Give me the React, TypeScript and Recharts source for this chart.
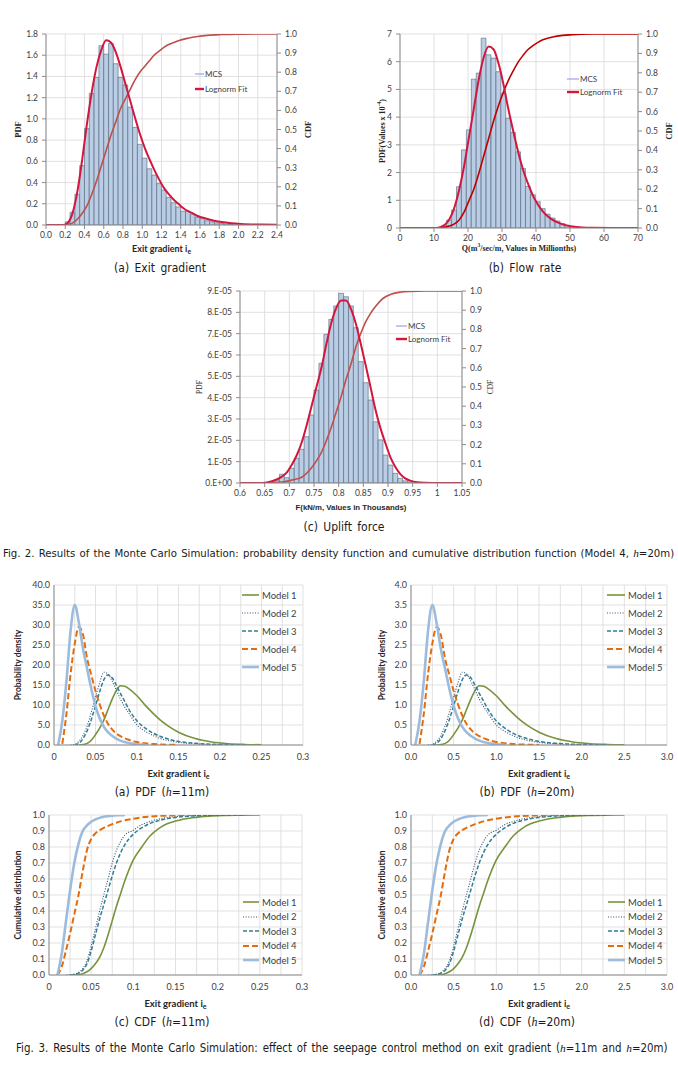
import React from "react";
import {
  ComposedChart,
  LineChart,
  Line,
  Bar,
  XAxis,
  YAxis,
  CartesianGrid,
  Label,
} from "recharts";

// ---------- Fig. 2(a): exit gradient, bins 0.05 wide ----------
const gradBinX = [
  0.225, 0.275, 0.325, 0.375, 0.425, 0.475, 0.525, 0.575, 0.625, 0.675, 0.725, 0.775,
  0.825, 0.875, 0.925, 0.975, 1.025, 1.075, 1.125, 1.175, 1.225, 1.275, 1.325, 1.375,
  1.425, 1.475, 1.525, 1.575, 1.625, 1.675, 1.725, 1.775, 1.825, 1.875, 1.925,
];
const gradBinPdf = [
  0.03, 0.12, 0.29, 0.56, 0.91, 1.24, 1.39, 1.69, 1.61, 1.71, 1.52, 1.39, 1.32, 1.11,
  0.92, 0.76, 0.63, 0.53, 0.47, 0.39, 0.33, 0.26, 0.21, 0.17, 0.13, 0.13, 0.1, 0.07,
  0.06, 0.04, 0.03, 0.02, 0.015, 0.01, 0.006,
];
const gradFitX = [
  -0.025, 0.175, 0.225, 0.275, 0.325, 0.375, 0.425, 0.475, 0.525, 0.575, 0.625, 0.675,
  0.725, 0.775, 0.825, 0.875, 0.925, 0.975, 1.025, 1.075, 1.125, 1.175, 1.225, 1.275,
  1.325, 1.375, 1.425, 1.475, 1.525, 1.575, 1.625, 1.725, 1.825, 1.925, 2.025, 2.225, 2.425,
];
const gradFitPdf = [
  0, 0, 0.02, 0.11, 0.31, 0.61, 0.95, 1.25, 1.49, 1.65, 1.74, 1.72, 1.63, 1.49, 1.33,
  1.17, 1.01, 0.86, 0.73, 0.62, 0.52, 0.43, 0.35, 0.29, 0.24, 0.2, 0.16, 0.13, 0.11,
  0.085, 0.07, 0.045, 0.028, 0.017, 0.01, 0.004, 0.001,
];
const gradCdfX = [
  -0.025, 0.175, 0.225, 0.275, 0.325, 0.375, 0.425, 0.475, 0.525, 0.575, 0.625, 0.675,
  0.725, 0.775, 0.825, 0.875, 0.925, 0.975, 1.025, 1.075, 1.125, 1.175, 1.225, 1.275,
  1.325, 1.375, 1.475, 1.575, 1.675, 1.825, 2.025, 2.225, 2.425,
];
const gradFitCdf = [
  0, 0, 0.002, 0.01, 0.03, 0.06, 0.1, 0.16, 0.23, 0.31, 0.39, 0.47, 0.54, 0.61, 0.66,
  0.71, 0.76, 0.8, 0.83, 0.86, 0.89, 0.91, 0.93, 0.945, 0.955, 0.965, 0.978, 0.987,
  0.993, 0.997, 0.999, 1, 1,
];
const gradTicksX = [0, 0.2, 0.4, 0.6, 0.8, 1.0, 1.2, 1.4, 1.6, 1.8, 2.0, 2.2, 2.4];
const gradTicksPdf = [0, 0.2, 0.4, 0.6, 0.8, 1.0, 1.2, 1.4, 1.6, 1.8];

// ---------- Fig. 2(b): flow rate, bins 1.45 wide ----------
const flowBinX = [
  13.0, 14.45, 15.9, 17.35, 18.8, 20.25, 21.7, 23.15, 24.6, 26.05, 27.5, 28.95, 30.4,
  31.85, 33.3, 34.75, 36.2, 37.65, 39.1, 40.55, 42.0, 43.45, 44.9, 46.35, 47.8, 49.25, 50.7,
];
const flowBinPdf = [
  0.1, 0.29, 0.65, 1.49, 2.82, 3.54, 5.37, 5.59, 6.85, 6.25, 6.13, 5.64, 4.85, 3.96,
  3.45, 2.75, 2.15, 1.5, 1.2, 0.95, 0.7, 0.5, 0.36, 0.25, 0.16, 0.1, 0.05,
];
const flowFitX = [
  -0.05, 10.1, 11.55, 13.0, 14.45, 15.9, 17.35, 18.8, 20.25, 21.7, 23.15, 24.6, 26.05,
  27.5, 28.95, 30.4, 31.85, 33.3, 34.75, 36.2, 37.65, 39.1, 40.55, 42.0, 43.45, 44.9,
  46.35, 47.8, 50.7, 53.6, 56.5, 62.3, 71.0,
];
const flowFitPdf = [
  0, 0, 0.02, 0.1, 0.3, 0.7, 1.35, 2.2, 3.25, 4.3, 5.35, 6.15, 6.55, 6.45, 5.95, 5.2,
  4.3, 3.5, 2.75, 2.1, 1.6, 1.17, 0.85, 0.6, 0.42, 0.29, 0.2, 0.13, 0.055, 0.02, 0.007,
  0.001, 0,
];
const flowCdfX = [
  -0.05, 10.1, 13.0, 14.45, 15.9, 17.35, 18.8, 20.25, 21.7, 23.15, 24.6, 26.05, 27.5,
  28.95, 30.4, 31.85, 33.3, 34.75, 36.2, 37.65, 39.1, 40.55, 42.0, 44.9, 47.8, 50.7,
  53.6, 56.5, 71.0,
];
const flowFitCdf = [
  0, 0, 0.004, 0.01, 0.02, 0.04, 0.08, 0.14, 0.2, 0.28, 0.37, 0.46, 0.55, 0.63, 0.7,
  0.76, 0.81, 0.855, 0.89, 0.92, 0.94, 0.957, 0.97, 0.985, 0.993, 0.997, 0.999, 1, 1,
];
const flowTicksX = [0, 10, 20, 30, 40, 50, 60, 70];
const flowTicksPdf = [0, 1, 2, 3, 4, 5, 6, 7];

// ---------- Fig. 2(c): uplift force, bins 0.01 wide ----------
const upliftBinX = [
  0.665, 0.675, 0.685, 0.695, 0.705, 0.715, 0.725, 0.735, 0.745, 0.755, 0.765, 0.775,
  0.785, 0.795, 0.805, 0.815, 0.825, 0.835, 0.845, 0.855, 0.865, 0.875, 0.885, 0.895,
  0.905, 0.915, 0.925, 0.935, 0.945,
];
const upliftBinPdf = [
  0.03e-5, 0.14e-5, 0.41e-5, 0.25e-5, 0.69e-5, 1.16e-5, 1.58e-5, 2.17e-5, 3.19e-5,
  4.36e-5, 5.61e-5, 6.97e-5, 7.67e-5, 8.3e-5, 8.89e-5, 8.73e-5, 8.3e-5, 7.28e-5,
  5.69e-5, 4.7e-5, 3.89e-5, 2.87e-5, 2.02e-5, 1.31e-5, 0.84e-5, 0.45e-5, 0.22e-5,
  0.1e-5, 0.05e-5,
];
const upliftFitX = [
  0.595, 0.645, 0.665, 0.685, 0.695, 0.705, 0.715, 0.725, 0.735, 0.745, 0.755, 0.765,
  0.775, 0.785, 0.795, 0.805, 0.815, 0.825, 0.835, 0.845, 0.855, 0.865, 0.875, 0.885,
  0.895, 0.905, 0.915, 0.925, 0.935, 0.945, 0.955, 0.975, 1.005, 1.055,
];
const upliftFitPdf = [
  0, 0, 0.08e-5, 0.3e-5, 0.5e-5, 0.85e-5, 1.3e-5, 1.9e-5, 2.7e-5, 3.6e-5, 4.5e-5,
  5.4e-5, 6.5e-5, 7.5e-5, 8.2e-5, 8.55e-5, 8.55e-5, 8.15e-5, 7.45e-5, 6.5e-5, 5.5e-5,
  4.45e-5, 3.4e-5, 2.55e-5, 1.85e-5, 1.2e-5, 0.75e-5, 0.42e-5, 0.22e-5, 0.11e-5,
  0.05e-5, 0.01e-5, 0, 0,
];
const upliftCdfX = [
  0.595, 0.645, 0.685, 0.705, 0.725, 0.745, 0.755, 0.765, 0.775, 0.785, 0.795, 0.805,
  0.815, 0.825, 0.835, 0.845, 0.855, 0.865, 0.875, 0.885, 0.895, 0.905, 0.925, 0.945,
  0.975, 1.055,
];
const upliftFitCdf = [
  0, 0, 0.005, 0.015, 0.03, 0.08, 0.115, 0.16, 0.22, 0.29, 0.37, 0.45, 0.54, 0.62,
  0.71, 0.78, 0.84, 0.885, 0.92, 0.95, 0.97, 0.982, 0.994, 0.998, 1, 1,
];
const upliftTicksX = [0.6, 0.65, 0.7, 0.75, 0.8, 0.85, 0.9, 0.95, 1.0, 1.05];
const upliftTicksPdf = [0, 1e-5, 2e-5, 3e-5, 4e-5, 5e-5, 6e-5, 7e-5, 8e-5, 9e-5];

const cdfTicks = [0, 0.1, 0.2, 0.3, 0.4, 0.5, 0.6, 0.7, 0.8, 0.9, 1.0];

// ---------- Fig. 3: exit gradient per seepage-control model ----------
const ig11X = [
  0.005, 0.01, 0.015, 0.02, 0.025, 0.03, 0.035, 0.04, 0.045, 0.05, 0.055, 0.06, 0.065,
  0.07, 0.075, 0.08, 0.085, 0.09, 0.1, 0.11, 0.12, 0.13, 0.14, 0.15, 0.17, 0.19, 0.21,
  0.23, 0.25,
];
const pdf11M1 = [null, null, null, null, null, 0, 0.1, 0.4, 1.2, 2.6, 4.2, 6.2, 8.8, 11.4, 13.6, 14.8, 14.7, 14.1, 12.3, 9.9, 7.8, 5.9, 4.4, 3.2, 1.6, 0.75, 0.33, 0.14, 0.05];
const pdf11M2 = [null, null, null, 0, 0.2, 0.9, 2.4, 4.8, 8.2, 12.0, 15.5, 18.2, 17.8, 16.0, 13.8, 11.5, 9.6, 8.0, 5.0, 3.4, 2.3, 1.5, 1.0, 0.65, 0.28, 0.12, 0.05, null, null];
const pdf11M3 = [null, null, null, null, 0, 0.4, 1.6, 3.6, 6.4, 9.8, 13.3, 16.3, 17.5, 16.8, 15.0, 12.9, 11.0, 9.0, 6.0, 4.2, 2.9, 2.0, 1.35, 0.9, 0.42, 0.18, 0.08, 0.03, null];
const pdf11M4 = [null, 0.3, 7.8, 17.8, 25.3, 29.5, 27.5, 21.5, 17.5, 13.5, 10.2, 7.4, 5.3, 3.9, 2.9, 2.2, 1.7, 1.3, 0.75, 0.42, 0.23, 0.12, 0.06, 0.03, null, null, null, null, null];
const pdf11M5 = [0, 6, 16, 28.6, 35, 30.5, 24, 19, 14, 9.8, 6.7, 4.6, 3.2, 2.3, 1.6, 1.1, 0.75, 0.5, 0.2, 0.05, null, null, null, null, null, null, null, null, null];

const ig20X = [
  0.05, 0.1, 0.15, 0.2, 0.25, 0.3, 0.35, 0.4, 0.45, 0.5, 0.55, 0.6, 0.65, 0.7, 0.75,
  0.8, 0.85, 0.9, 1.0, 1.1, 1.2, 1.3, 1.4, 1.5, 1.7, 1.9, 2.1, 2.3, 2.5,
];
const pdf20M1 = [null, null, null, null, null, 0, 0.01, 0.04, 0.12, 0.26, 0.42, 0.62, 0.88, 1.14, 1.36, 1.48, 1.47, 1.41, 1.23, 0.99, 0.78, 0.59, 0.44, 0.32, 0.16, 0.075, 0.033, 0.014, 0.005];
const pdf20M2 = [null, null, null, 0, 0.02, 0.09, 0.24, 0.48, 0.82, 1.2, 1.55, 1.82, 1.78, 1.6, 1.38, 1.15, 0.96, 0.8, 0.5, 0.34, 0.23, 0.15, 0.1, 0.065, 0.028, 0.012, 0.005, null, null];
const pdf20M3 = [null, null, null, null, 0, 0.04, 0.16, 0.36, 0.64, 0.98, 1.33, 1.63, 1.75, 1.68, 1.5, 1.29, 1.1, 0.9, 0.6, 0.42, 0.29, 0.2, 0.135, 0.09, 0.042, 0.018, 0.008, 0.003, null];
const pdf20M4 = [null, 0.03, 0.78, 1.78, 2.53, 2.95, 2.75, 2.15, 1.75, 1.35, 1.02, 0.74, 0.53, 0.39, 0.29, 0.22, 0.17, 0.13, 0.075, 0.042, 0.023, 0.012, 0.006, 0.003, null, null, null, null, null];
const pdf20M5 = [0, 0.6, 1.6, 2.86, 3.5, 3.05, 2.4, 1.9, 1.4, 0.98, 0.67, 0.46, 0.32, 0.23, 0.16, 0.11, 0.075, 0.05, 0.02, 0.005, null, null, null, null, null, null, null, null, null];

// CDF ordinates, read at the same grid points (h=11m on ig11X, h=20m on ig20X)
const cdfM1 = [null, null, null, null, null, 0, 0.002, 0.008, 0.02, 0.04, 0.07, 0.11, 0.17, 0.25, 0.34, 0.43, 0.51, 0.59, 0.72, 0.8, 0.87, 0.915, 0.945, 0.962, 0.983, 0.993, 0.997, 0.999, 1];
const cdfM2 = [null, null, null, 0, 0.001, 0.005, 0.015, 0.04, 0.09, 0.18, 0.29, 0.4, 0.5, 0.6, 0.7, 0.78, 0.835, 0.875, 0.905, 0.94, 0.96, 0.974, 0.984, 0.99, 0.996, 0.999, 1, null, null];
const cdfM3 = [null, null, null, null, 0, 0.004, 0.012, 0.03, 0.07, 0.15, 0.25, 0.35, 0.44, 0.53, 0.62, 0.7, 0.765, 0.815, 0.88, 0.92, 0.948, 0.965, 0.977, 0.985, 0.994, 0.998, 0.999, 1, null];
const cdfM4 = [null, 0, 0.05, 0.15, 0.26, 0.38, 0.5, 0.65, 0.78, 0.85, 0.885, 0.905, 0.92, 0.932, 0.943, 0.952, 0.96, 0.967, 0.977, 0.985, 0.99, 0.994, 0.996, 0.998, 1, null, null, null, null];
const cdfM5 = [null, 0, 0.13, 0.33, 0.53, 0.7, 0.82, 0.9, 0.935, 0.958, 0.972, 0.982, 0.989, 0.993, 0.996, 0.998, 0.999, 1, null, null, null, null, null, null, null, null, null, null, null];

const ig11Ticks = [0, 0.025, 0.05, 0.075, 0.1, 0.125, 0.15, 0.175, 0.2, 0.225, 0.25, 0.275, 0.3];
const ig20Ticks = [0, 0.25, 0.5, 0.75, 1.0, 1.25, 1.5, 1.75, 2.0, 2.25, 2.5, 2.75, 3.0];
const pdf11Ticks = [0, 5, 10, 15, 20, 25, 30, 35, 40];
const pdf20Ticks = [0, 0.5, 1.0, 1.5, 2.0, 2.5, 3.0, 3.5, 4.0];

const modelNames = ["Model 1", "Model 2", "Model 3", "Model 4", "Model 5"];

// ---------- styles ----------
const FONT_TICK = "Lato, 'Open Sans', sans-serif";
const FONT_SERIF = "'Liberation Serif', 'DejaVu Serif', serif";
const FONT_ARIAL = "'Liberation Sans', Arial, sans-serif";
const FONT_CAP = "'Liberation Sans Narrow', 'DejaVu Sans Condensed', 'Arial Narrow', sans-serif";
const GRID = "#d9d9d9";
const AXIS = "#8c8c8c";
const FIT_RED = "#d2173f";

const MODEL_STYLE = [
  { color: "#77933c", dash: undefined, width: 1.6 },
  { color: "#3d4f73", dash: "1 1.6", width: 1.1 },
  { color: "#2f7f92", dash: "4 2", width: 1.5 },
  { color: "#e46c0a", dash: "6 3", width: 2 },
  { color: "#9dbbdc", dash: undefined, width: 2.6 },
];

type Row = { x: number; [key: string]: number | null };

// join several (x, y) series on their x values
function mergeByX(series: Record<string, [number[], number[]]>): Row[] {
  const byKey = new Map<string, Row>();
  Object.entries(series).forEach(([name, [xs, ys]]) => {
    xs.forEach((x, i) => {
      const k = x.toFixed(4);
      const row = byKey.get(k) ?? { x };
      row[name] = ys[i];
      byKey.set(k, row);
    });
  });
  return [...byKey.values()].sort((a, b) => a.x - b.x);
}

function modelRows(xs: number[], models: (number | null)[][]): Row[] {
  return xs.map((x, i) => {
    const row: Row = { x };
    models.forEach((m, j) => {
      row[`m${j + 1}`] = m[i];
    });
    return row;
  });
}

const gradRows = mergeByX({ bin: [gradBinX, gradBinPdf], pdf: [gradFitX, gradFitPdf], cdf: [gradCdfX, gradFitCdf] });
const flowRows = mergeByX({ bin: [flowBinX, flowBinPdf], pdf: [flowFitX, flowFitPdf], cdf: [flowCdfX, flowFitCdf] });
const upliftRows = mergeByX({ bin: [upliftBinX, upliftBinPdf], pdf: [upliftFitX, upliftFitPdf], cdf: [upliftCdfX, upliftFitCdf] });

const pdf11Rows = modelRows(ig11X, [pdf11M1, pdf11M2, pdf11M3, pdf11M4, pdf11M5]);
const pdf20Rows = modelRows(ig20X, [pdf20M1, pdf20M2, pdf20M3, pdf20M4, pdf20M5]);
const cdf11Rows = modelRows(ig11X, [cdfM1, cdfM2, cdfM3, cdfM4, cdfM5]);
const cdf20Rows = modelRows(ig20X, [cdfM1, cdfM2, cdfM3, cdfM4, cdfM5]);

// ---------- small text helpers ----------
const vTitle = (x: number, style: React.CSSProperties, body: React.ReactNode) =>
  (props: any) => {
    const vb = props.viewBox || {};
    const cy = vb.y + vb.height / 2;
    return (
      <text x={x} y={cy} transform={`rotate(-90 ${x} ${cy})`} textAnchor="middle" dominantBaseline="central" style={style}>
        {body}
      </text>
    );
  };

const hTitle = (y: number, style: React.CSSProperties, body: React.ReactNode) =>
  (props: any) => {
    const vb = props.viewBox || {};
    const cx = vb.x + vb.width / 2;
    return (
      <text x={cx} y={y} textAnchor="middle" dominantBaseline="central" style={style}>
        {body}
      </text>
    );
  };

const exitGradient = (
  <>
    Exit gradient i<tspan dy={2.5} fontSize="0.75em">e</tspan>
  </>
);

function FitLegend({ x, y, lineW, gap }: { x: number; y: number; lineW: number; gap: number }) {
  const items = [
    { name: "MCS", color: "#8b8bf0", w: 1 },
    { name: "Lognorm Fit", color: FIT_RED, w: 2.4 },
  ];
  return (
    <div style={{ position: "absolute", left: x, top: y - gap / 2 }}>
      {items.map((it) => (
        <div key={it.name} style={{ display: "flex", alignItems: "center", height: gap }}>
          <svg width={lineW} height={6}>
            <line x1={0} y1={3} x2={lineW} y2={3} stroke={it.color} strokeWidth={it.w} />
          </svg>
          <span style={{ marginLeft: 1, fontSize: 8, fontFamily: FONT_TICK, color: "#404040" }}>{it.name}</span>
        </div>
      ))}
    </div>
  );
}

function ModelLegend({ x, y, lineW, gap }: { x: number; y: number; lineW: number; gap: number }) {
  return (
    <div style={{ position: "absolute", left: x, top: y - gap / 2 }}>
      {modelNames.map((name, i) => {
        const s = MODEL_STYLE[i];
        return (
          <div key={name} style={{ display: "flex", alignItems: "center", height: gap }}>
            <svg width={lineW} height={6}>
              <line x1={0} y1={3} x2={lineW} y2={3} stroke={s.color} strokeWidth={s.width} strokeDasharray={s.dash} />
            </svg>
            <span style={{ marginLeft: 3, fontSize: 9.5, fontFamily: FONT_TICK, color: "#404040" }}>{name}</span>
          </div>
        );
      })}
    </div>
  );
}

// ---------- Fig. 2 panel: histogram + lognormal pdf/cdf ----------
type HistProps = {
  left: number;
  top: number;
  width: number;
  height: number;
  margin: { top: number; right: number; bottom: number; left: number };
  leftW: number;
  rightW: number;
  xAxisH: number;
  rows: Row[];
  binWidth: number;
  xDomain: [number, number];
  xTicks: number[];
  fmtX: (v: number) => string;
  yDomain: [number, number];
  yTicks: number[];
  fmtY: (v: number) => string;
  cdfColor: string;
  pdfTitle: (p: any) => React.ReactElement;
  cdfTitle: (p: any) => React.ReactElement;
  xTitle: (p: any) => React.ReactElement;
  legend: { x: number; y: number; lineW: number; gap: number };
};

function HistPanel(p: HistProps) {
  const plotW = p.width - p.margin.left - p.margin.right - p.leftW - p.rightW;
  const binPx = (plotW * p.binWidth) / (p.xDomain[1] - p.xDomain[0]) - 0.1;
  const tick = { fontSize: 8.5, fill: "#404040", fontFamily: FONT_TICK };
  return (
    <div style={{ position: "absolute", left: p.left, top: p.top, width: p.width, height: p.height }}>
      <ComposedChart width={p.width} height={p.height} data={p.rows} margin={p.margin}>
        <CartesianGrid stroke={GRID} strokeWidth={0.8} yAxisId="pdf" />
        <XAxis
          type="number"
          dataKey="x"
          domain={p.xDomain}
          ticks={p.xTicks}
          interval={0}
          allowDataOverflow
          tickFormatter={p.fmtX}
          height={p.xAxisH}
          tick={tick}
          tickSize={4}
          tickMargin={3}
          stroke={AXIS}
        >
          <Label content={p.xTitle} />
        </XAxis>
        <YAxis
          yAxisId="pdf"
          orientation="left"
          width={p.leftW}
          domain={p.yDomain}
          ticks={p.yTicks}
          interval={0}
          allowDataOverflow
          tickFormatter={p.fmtY}
          tick={tick}
          tickSize={4}
          tickMargin={4}
          stroke={AXIS}
        >
          <Label content={p.pdfTitle} />
        </YAxis>
        <YAxis
          yAxisId="cdf"
          orientation="right"
          width={p.rightW}
          domain={[0, 1]}
          ticks={cdfTicks}
          interval={0}
          allowDataOverflow
          tickFormatter={(v: number) => v.toFixed(1)}
          tick={tick}
          tickSize={4}
          tickMargin={4}
          stroke={AXIS}
        >
          <Label content={p.cdfTitle} />
        </YAxis>
        <Bar
          yAxisId="pdf"
          dataKey="bin"
          barSize={binPx}
          fill="#b9cde5"
          stroke="#56657a"
          strokeWidth={0.6}
          isAnimationActive={false}
        />
        <Line yAxisId="cdf" dataKey="cdf" type="monotone" stroke={p.cdfColor} strokeWidth={1.6} dot={false} connectNulls isAnimationActive={false} />
        <Line yAxisId="pdf" dataKey="pdf" type="monotone" stroke={FIT_RED} strokeWidth={2} dot={false} connectNulls isAnimationActive={false} />
      </ComposedChart>
      <FitLegend {...p.legend} />
    </div>
  );
}

// ---------- Fig. 3 panel: five model curves ----------
type ModelProps = {
  left: number;
  top: number;
  leftW: number;
  marginRight: number;
  rows: Row[];
  xTicks: number[];
  fmtX: (v: number) => string;
  yDomain: [number, number];
  yTicks: number[];
  yTitle: string;
  legend: { x: number; y: number; lineW: number; gap: number };
};

function ModelPanel(p: ModelProps) {
  const tick = { fontSize: 9, fill: "#404040", fontFamily: FONT_TICK };
  const titleStyle: React.CSSProperties = { fontFamily: FONT_TICK, fontWeight: 700, fontSize: 8.5, fill: "#262626" };
  const xDomain: [number, number] = [p.xTicks[0], p.xTicks[p.xTicks.length - 1]];
  return (
    <div style={{ position: "absolute", left: p.left, top: p.top, width: 339, height: 230 }}>
      <LineChart width={339} height={230} data={p.rows} margin={{ top: 10, right: p.marginRight, bottom: 20, left: 0 }}>
        <CartesianGrid stroke={GRID} strokeWidth={0.8} />
        <XAxis
          type="number"
          dataKey="x"
          domain={xDomain}
          ticks={p.xTicks}
          interval={0}
          allowDataOverflow
          tickFormatter={(v: number, i: number) => (i % 2 ? "" : p.fmtX(v))}
          height={40}
          tick={tick}
          tickLine={false}
          tickSize={0}
          tickMargin={9}
          stroke={AXIS}
        >
          <Label content={hTitle(198, { ...titleStyle, fontSize: 9.5 }, exitGradient)} />
        </XAxis>
        <YAxis
          width={p.leftW}
          domain={p.yDomain}
          ticks={p.yTicks}
          interval={0}
          allowDataOverflow
          tickFormatter={(v: number) => v.toFixed(1)}
          tick={tick}
          tickLine={false}
          tickSize={0}
          tickMargin={4}
          stroke={AXIS}
        >
          <Label content={vTitle(p.leftW > 60 ? 43 : 18, titleStyle, p.yTitle)} />
        </YAxis>
        {modelNames.map((name, i) => (
          <Line
            key={name}
            dataKey={`m${i + 1}`}
            name={name}
            type="monotone"
            stroke={MODEL_STYLE[i].color}
            strokeWidth={MODEL_STYLE[i].width}
            strokeDasharray={MODEL_STYLE[i].dash}
            dot={false}
            isAnimationActive={false}
          />
        ))}
      </LineChart>
      <ModelLegend {...p.legend} />
    </div>
  );
}

function Caption({ x, y, align = "center", size = 12, spacing = 2, children }: { x: number; y: number; align?: "center" | "left"; size?: number; spacing?: number; children: React.ReactNode }) {
  const centered = align === "center";
  return (
    <div
      style={{
        position: "absolute",
        top: y - 9,
        height: 18,
        lineHeight: "18px",
        left: centered ? x - 200 : x,
        width: centered ? 400 : undefined,
        textAlign: centered ? "center" : "left",
        whiteSpace: "nowrap",
        fontFamily: FONT_CAP,
        fontSize: size,
        color: "#1a1a1a",
        wordSpacing: spacing,
      }}
    >
      {children}
    </div>
  );
}

const H = () => <i style={{ fontFamily: FONT_SERIF }}>h</i>;

export default function App() {
  const serifBold: React.CSSProperties = { fontFamily: FONT_SERIF, fontWeight: 700, fontSize: 8.5, fill: "#262626" };
  const sansBold: React.CSSProperties = { fontFamily: FONT_TICK, fontWeight: 700, fontSize: 9, fill: "#262626" };
  return (
    <div style={{ position: "absolute", left: 0, top: 0, width: 678, height: 1071, overflow: "hidden", background: "#fff" }}>
      <HistPanel
        left={0}
        top={0}
        width={339}
        height={260}
        margin={{ top: 34, right: 20, bottom: 0, left: 0 }}
        leftW={46}
        rightW={42}
        xAxisH={35}
        rows={gradRows}
        binWidth={0.05}
        xDomain={[0, 2.4]}
        xTicks={gradTicksX}
        fmtX={(v) => v.toFixed(1)}
        yDomain={[0, 1.8]}
        yTicks={gradTicksPdf}
        fmtY={(v) => v.toFixed(1)}
        cdfColor="#bf4f4b"
        pdfTitle={vTitle(18, serifBold, "PDF")}
        cdfTitle={vTitle(308, serifBold, "CDF")}
        xTitle={hTitle(248, sansBold, exitGradient)}
        legend={{ x: 195, y: 74, lineW: 9, gap: 15 }}
      />
      <HistPanel
        left={339}
        top={0}
        width={339}
        height={260}
        margin={{ top: 34, right: 0, bottom: 0, left: 0 }}
        leftW={61}
        rightW={40}
        xAxisH={32}
        rows={flowRows}
        binWidth={1.45}
        xDomain={[0, 70]}
        xTicks={flowTicksX}
        fmtX={(v) => String(v)}
        yDomain={[0, 7]}
        yTicks={flowTicksPdf}
        fmtY={(v) => String(v)}
        cdfColor="#c00000"
        pdfTitle={vTitle(43, { ...serifBold, fontSize: 8 }, (
          <>
            PDF(Values x 10<tspan dy={-3} fontSize="0.7em">-4</tspan><tspan dy={3}>)</tspan>
          </>
        ))}
        cdfTitle={vTitle(330, serifBold, "CDF")}
        xTitle={hTitle(248, { ...serifBold, fontSize: 8 }, (
          <>
            Q(m<tspan dy={-3} fontSize="0.7em">3</tspan><tspan dy={3}>/sec/m, Values in Millionths)</tspan>
          </>
        ))}
        legend={{ x: 228, y: 79, lineW: 12, gap: 13 }}
      />
      <Caption x={160} y={268}>(a) Exit gradient</Caption>
      <Caption x={525} y={268}>(b) Flow rate</Caption>
      <HistPanel
        left={170}
        top={250}
        width={339}
        height={265}
        margin={{ top: 41, right: 5, bottom: 0, left: 0 }}
        leftW={70}
        rightW={42}
        xAxisH={32}
        rows={upliftRows}
        binWidth={0.01}
        xDomain={[0.6, 1.05]}
        xTicks={upliftTicksX}
        fmtX={(v) => String(Number(v.toFixed(2)))}
        yDomain={[0, 9e-5]}
        yTicks={upliftTicksPdf}
        fmtY={(v) => (v === 0 ? "0.E+00" : `${Math.round(v * 1e5)}.E-05`)}
        cdfColor="#bf4f4b"
        pdfTitle={vTitle(29, { ...serifBold, fontSize: 7.5, fontWeight: 400 }, "PDF")}
        cdfTitle={vTitle(320, { ...serifBold, fontSize: 7.5, fontWeight: 400 }, "CDF")}
        xTitle={hTitle(257, { fontFamily: FONT_ARIAL, fontWeight: 700, fontSize: 7.8, fill: "#262626" }, "F(kN/m, Values in Thousands)")}
        legend={{ x: 226, y: 76, lineW: 11, gap: 13 }}
      />
      <Caption x={344} y={527}>(c) Uplift force</Caption>
      <Caption x={3} y={553} align="left" size={11.3} spacing={1}>
        Fig. 2. Results of the Monte Carlo Simulation: probability density function and cumulative distribution function (Model 4, <H />=20m)
      </Caption>

      <ModelPanel
        left={0}
        top={575}
        leftW={54}
        marginRight={36}
        rows={pdf11Rows}
        xTicks={ig11Ticks}
        fmtX={(v) => String(Number(v.toFixed(2)))}
        yDomain={[0, 40]}
        yTicks={pdf11Ticks}
        yTitle="Probability density"
        legend={{ x: 242, y: 20, lineW: 17, gap: 18 }}
      />
      <ModelPanel
        left={339}
        top={575}
        leftW={72}
        marginRight={11}
        rows={pdf20Rows}
        xTicks={ig20Ticks}
        fmtX={(v) => v.toFixed(1)}
        yDomain={[0, 4]}
        yTicks={pdf20Ticks}
        yTitle="Probability density"
        legend={{ x: 268, y: 20, lineW: 18, gap: 18 }}
      />
      <Caption x={162} y={792}>(a) PDF (<H />=11m)</Caption>
      <Caption x={527} y={792}>(b) PDF (<H />=20m)</Caption>

      <ModelPanel
        left={0}
        top={805}
        leftW={49}
        marginRight={37}
        rows={cdf11Rows}
        xTicks={ig11Ticks}
        fmtX={(v) => String(Number(v.toFixed(2)))}
        yDomain={[0, 1]}
        yTicks={cdfTicks}
        yTitle="Cumulative distribution"
        legend={{ x: 243, y: 97, lineW: 16, gap: 14.5 }}
      />
      <ModelPanel
        left={339}
        top={805}
        leftW={72}
        marginRight={11}
        rows={cdf20Rows}
        xTicks={ig20Ticks}
        fmtX={(v) => v.toFixed(1)}
        yDomain={[0, 1]}
        yTicks={cdfTicks}
        yTitle="Cumulative distribution"
        legend={{ x: 269, y: 97, lineW: 17, gap: 14.5 }}
      />
      <Caption x={162} y={1022}>(c) CDF (<H />=11m)</Caption>
      <Caption x={527} y={1022}>(d) CDF (<H />=20m)</Caption>
      <Caption x={16} y={1048} align="left" size={11.4} spacing={1.6}>
        Fig. 3. Results of the Monte Carlo Simulation: effect of the seepage control method on exit gradient (<H />=11m and <H />=20m)
      </Caption>
    </div>
  );
}
